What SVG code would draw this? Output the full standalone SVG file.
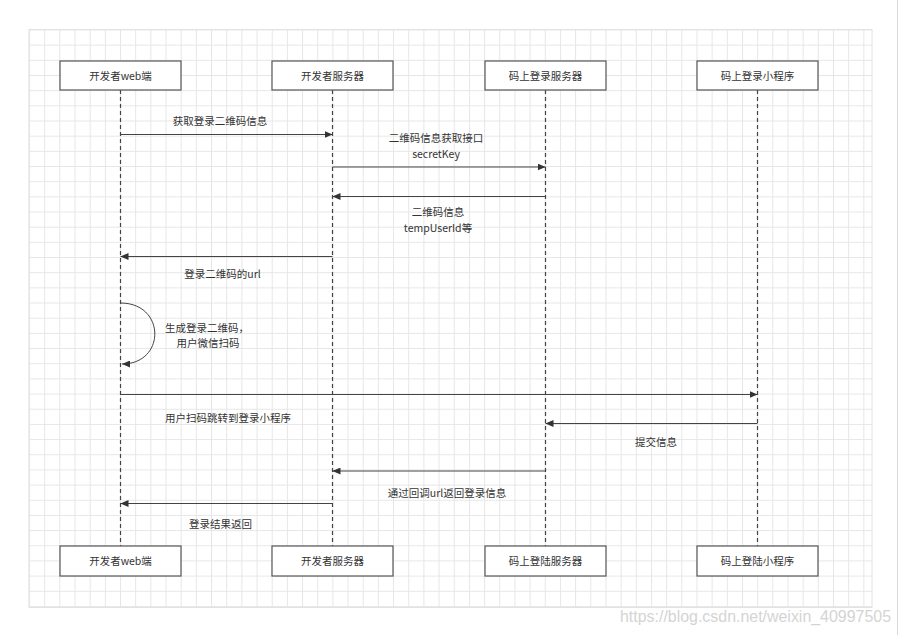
<svg xmlns="http://www.w3.org/2000/svg" width="901" height="635" viewBox="0 0 901 635">
<defs>
<pattern id="grid" x="29" y="29.5" width="15.17" height="15.17" patternUnits="userSpaceOnUse">
<path d="M0,0.5 H15.17 M0.5,0 V15.17" fill="none" stroke="#e6e6e6" stroke-width="1"/>
</pattern>
<marker id="ah" markerWidth="8" markerHeight="7" refX="8" refY="3.5" orient="auto" markerUnits="userSpaceOnUse">
<path d="M0,0 L8,3.5 L0,7 z" fill="#333"/>
</marker>
<style>
.t{font-family:"Noto Sans CJK SC","Noto Sans",sans-serif;font-size:10.5px;fill:#333;text-anchor:middle}
.box{fill:#fff;stroke:#555;stroke-width:1.2}
.life{stroke:#444;stroke-width:1.2;stroke-dasharray:4 3;fill:none}
.msg{stroke:#444;stroke-width:1;fill:none;marker-end:url(#ah)}
</style>
</defs>
<rect x="0" y="0" width="901" height="635" fill="#fff"/>
<rect x="29" y="29.5" width="843" height="578" fill="url(#grid)" stroke="#e2e2e2" stroke-width="1"/>
<line x1="897.5" y1="0" x2="897.5" y2="635" stroke="#d8d8d8" stroke-width="1"/>

<g id="lifelines">
<line class="life" x1="120.5" y1="90" x2="120.5" y2="546"/>
<line class="life" x1="332.5" y1="90" x2="332.5" y2="546"/>
<line class="life" x1="545.5" y1="90" x2="545.5" y2="546"/>
<line class="life" x1="757.5" y1="90" x2="757.5" y2="546"/>
</g>

<g id="node-web-top"><rect class="box" x="60" y="61" width="121" height="29"/><text class="t" x="120.5" y="79.5">开发者web端</text></g>
<g id="node-server-top"><rect class="box" x="272" y="61" width="121" height="29"/><text class="t" x="332.5" y="79.5">开发者服务器</text></g>
<g id="node-mslogin-top"><rect class="box" x="485" y="61" width="121" height="29"/><text class="t" x="545.5" y="79.5">码上登录服务器</text></g>
<g id="node-miniapp-top"><rect class="box" x="697" y="61" width="121" height="29"/><text class="t" x="757.5" y="79.5">码上登录小程序</text></g>

<g id="node-web-bottom"><rect class="box" x="60" y="546" width="121" height="30"/><text class="t" x="120.5" y="565">开发者web端</text></g>
<g id="node-server-bottom"><rect class="box" x="272" y="546" width="121" height="30"/><text class="t" x="332.5" y="565">开发者服务器</text></g>
<g id="node-mslogin-bottom"><rect class="box" x="485" y="546" width="121" height="30"/><text class="t" x="545.5" y="565">码上登陆服务器</text></g>
<g id="node-miniapp-bottom"><rect class="box" x="697" y="546" width="121" height="30"/><text class="t" x="757.5" y="565">码上登陆小程序</text></g>

<g id="connectors">
<line class="msg" x1="120.5" y1="134.5" x2="332.5" y2="134.5"/>
<line class="msg" x1="332.5" y1="167" x2="545.5" y2="167"/>
<line class="msg" x1="545.5" y1="196.5" x2="332.5" y2="196.5"/>
<line class="msg" x1="332.5" y1="256.5" x2="120.5" y2="256.5"/>
<path class="msg" d="M120.5,303 C166,303 166,364 122,364"/>
<line class="msg" x1="120.5" y1="394.5" x2="757.5" y2="394.5"/>
<line class="msg" x1="757.5" y1="423.5" x2="545.5" y2="423.5"/>
<line class="msg" x1="545.5" y1="471" x2="332.5" y2="471"/>
<line class="msg" x1="332.5" y1="503.5" x2="120.5" y2="503.5"/>
</g>

<g id="labels">
<text class="t" x="220" y="124.5">获取登录二维码信息</text>
<text class="t" x="436" y="142">二维码信息获取接口</text>
<text class="t" x="436" y="158">secretKey</text>
<text class="t" x="438" y="216">二维码信息</text>
<text class="t" x="438" y="232">tempUserId等</text>
<text class="t" x="222.5" y="278">登录二维码的url</text>
<text class="t" x="207" y="331.5">生成登录二维码，</text>
<text class="t" x="208" y="346.5">用户微信扫码</text>
<text class="t" x="228" y="421.5">用户扫码跳转到登录小程序</text>
<text class="t" x="656" y="445.5">提交信息</text>
<text class="t" x="447" y="497">通过回调url返回登录信息</text>
<text class="t" x="220.5" y="528">登录结果返回</text>
</g>

<text x="620" y="622" font-family="Liberation Sans, Arial, sans-serif" font-size="16" fill="#d4d4d4" textLength="271" lengthAdjust="spacingAndGlyphs">https://blog.csdn.net/weixin_40997505</text>
</svg>
